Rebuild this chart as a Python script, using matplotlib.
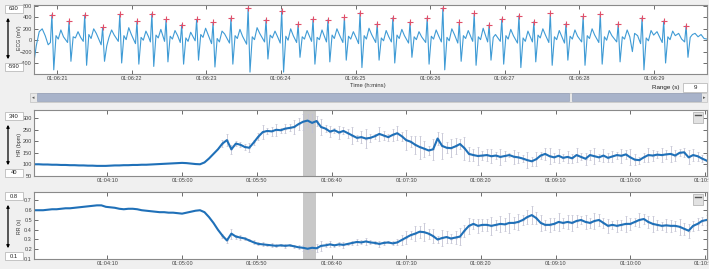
"""
ECG viewer screenshot: raw ECG window with R-peak marks, HR and RR trends.
"""

import matplotlib
matplotlib.use("Agg")
import matplotlib.pyplot as plt
from matplotlib.patches import Rectangle, FancyArrowPatch
from matplotlib.ticker import FuncFormatter

plt.rcParams["font.family"] = ["Liberation Sans", "DejaVu Sans"]

# --- ECG window (seconds after 01:06:00) ---
ecg_t = [
    20.69, 20.72, 20.76, 20.80, 20.84, 20.88, 20.91,
    20.93, 20.955, 20.985, 21.015, 21.05, 21.085, 21.14,
    21.16, 21.185, 21.215, 21.245, 21.28, 21.315, 21.35,
    21.37, 21.395, 21.425, 21.455, 21.49, 21.525, 21.59,
    21.61, 21.635, 21.665, 21.695, 21.73, 21.765, 21.82,
    21.84, 21.865, 21.895, 21.925, 21.96, 21.995, 22.05,
    22.07, 22.095, 22.125, 22.155, 22.19, 22.225, 22.25,
    22.27, 22.295, 22.325, 22.355, 22.39, 22.44,
    22.46, 22.485, 22.515, 22.545, 22.58, 22.615, 22.65,
    22.67, 22.695, 22.725, 22.755, 22.79, 22.85,
    22.87, 22.895, 22.925, 22.955, 22.99, 23.025, 23.07,
    23.09, 23.115, 23.145, 23.175, 23.21, 23.245, 23.31,
    23.33, 23.355, 23.385, 23.415, 23.45, 23.485, 23.54,
    23.56, 23.585, 23.615, 23.645, 23.68, 23.715, 23.78,
    23.80, 23.825, 23.855, 23.885, 23.92, 23.955, 23.99,
    24.01, 24.035, 24.065, 24.095, 24.13, 24.165, 24.21,
    24.23, 24.255, 24.285, 24.315, 24.35, 24.41,
    24.43, 24.455, 24.485, 24.515, 24.55, 24.61,
    24.63, 24.655, 24.685, 24.715, 24.75, 24.785, 24.83,
    24.85, 24.875, 24.905, 24.935, 24.97, 25.005, 25.04,
    25.06, 25.085, 25.115, 25.145, 25.18, 25.215, 25.27,
    25.29, 25.315, 25.345, 25.375, 25.41, 25.445, 25.48,
    25.50, 25.525, 25.555, 25.585, 25.62, 25.655, 25.71,
    25.73, 25.755, 25.785, 25.815, 25.85, 25.885, 25.94,
    25.96, 25.985, 26.015, 26.045, 26.08, 26.115, 26.15,
    26.17, 26.195, 26.225, 26.255, 26.29, 26.325, 26.37,
    26.39, 26.415, 26.445, 26.475, 26.51, 26.57,
    26.59, 26.615, 26.645, 26.675, 26.71, 26.77,
    26.79, 26.815, 26.845, 26.875, 26.94,
    26.96, 26.985, 27.015, 27.045, 27.08, 27.115, 27.17,
    27.19, 27.215, 27.245, 27.275, 27.31, 27.37,
    27.39, 27.415, 27.445, 27.475, 27.51, 27.545, 27.59,
    27.61, 27.635, 27.665, 27.695, 27.73, 27.765, 27.80,
    27.82, 27.845, 27.875, 27.905, 27.94, 27.975, 28.03,
    28.05, 28.075, 28.105, 28.135, 28.17, 28.205, 28.26,
    28.28, 28.305, 28.335, 28.365, 28.40, 28.435, 28.50,
    28.52, 28.545, 28.575, 28.605, 28.64, 28.675, 28.71, 28.74, 28.78, 28.82,
    28.84, 28.865, 28.895, 28.925, 28.96, 28.995, 29.04, 29.08, 29.11,
    29.13, 29.155, 29.185, 29.215, 29.25, 29.285, 29.33, 29.37, 29.41,
    29.43, 29.455, 29.485, 29.515, 29.55, 29.59, 29.63, 29.67, 29.71,
]
ecg_v = [
    -380, -100, 150, 200, 80, -80, -40,
    448, -520, 80, 20, 180, 60, -40,
    336, -370, 60, 40, 150, 50, -20,
    442, -440, 100, 30, 200, 120, -80,
    225, -370, -100, 50, 180, 90, -20,
    455, -400, 80, 10, 220, 100, -60,
    336, -420, 50, 0, 160, 60, -30,
    466, -460, 90, 40, 190, -20,
    366, -380, 70, 20, 170, 80, -40,
    271, -420, 40, -20, 140, -10,
    366, -350, 100, 50, 210, 90, -60,
    313, -470, 30, -30, 160, 110, -50,
    389, -420, 80, 30, 190, 70, -70,
    566, -560, 60, 10, 220, 120, -30,
    360, -330, 90, 40, 160, 60, -50,
    519, -560, 70, 0, 200, 80, -40,
    283, -300, 60, 20, 170, -20,
    372, -420, 50, 10, 180, -30,
    360, -380, 90, 30, 200, 90, -40,
    402, -350, 70, 20, 150, 50, -60,
    483, -480, 80, 20, 210, 100, -40,
    289, -350, 40, -10, 170, 60, -30,
    395, -400, 90, 30, 190, 80, -50,
    319, -300, 60, 10, 150, 60, -40,
    395, -420, 70, 20, 180, 70, -30,
    566, -520, 50, -10, 200, 100, -50,
    313, -370, 80, 30, 170, -20,
    472, -440, 60, 10, 210, -30,
    271, -350, 50, 100, -20,
    372, -420, 80, 20, 190, 80, -50,
    431, -480, 40, -20, 160, -30,
    324, -380, 90, 40, 200, 90, -40,
    472, -440, 60, 10, 170, 60, -50,
    289, -350, 70, 20, 180, 70, -30,
    419, -440, 80, 30, 200, 90, -40,
    466, -420, 60, 0, 170, 80, -30,
    289, -380, 60, 20, 180, 60, -200, 120, 80, -60,
    395, -520, 40, -10, 170, 90, 150, 40, -40,
    336, -400, 60, 10, 160, 80, 120, 20, -30,
    253, -300, 50, 100, 120, 60, 100, 30, 20,
]
peak_t = [20.93, 21.16, 21.37, 21.61, 21.84, 22.07, 22.27, 22.46, 22.67, 22.87,
          23.09, 23.33, 23.56, 23.80, 24.01, 24.23, 24.43, 24.63, 24.85, 25.06,
          25.29, 25.50, 25.73, 25.96, 26.17, 26.39, 26.59, 26.79, 26.96, 27.19,
          27.39, 27.61, 27.82, 28.05, 28.28, 28.52, 28.84, 29.13, 29.43]
peak_v = [448, 336, 442, 225, 455, 336, 466, 366, 271, 366,
          313, 389, 566, 360, 519, 283, 372, 360, 402, 483,
          289, 395, 319, 395, 566, 313, 472, 271, 372, 431,
          324, 472, 289, 419, 466, 289, 395, 336, 253]

# --- trends: one value every 3 s from 201 s after 01:00:00 ---
trend_t = list(range(201, 652, 3))
hr = [
    100, 100, 99, 99, 98, 98, 97, 97, 96, 96,
    95, 95, 94, 94, 93, 93, 93, 94, 95, 95,
    96, 96, 97, 97, 98, 98, 99, 100, 101, 102,
    103, 104, 105, 106, 105, 103, 101, 100, 108, 125,
    145, 165, 190, 205, 165, 190, 185, 175, 172, 195,
    220, 240, 245, 243, 250, 248, 255, 258, 262, 275,
    285, 290, 280, 288, 262, 255, 242, 248, 238, 245,
    235, 225, 215, 218, 212, 215, 222, 232, 225, 218,
    228, 235, 222, 205, 198, 185, 175, 168, 160, 165,
    212, 180, 172, 170, 178, 188, 170, 145, 140, 136,
    138, 140, 135, 138, 132, 136, 140, 133, 130, 125,
    118, 113, 122, 138, 145, 135, 130, 137, 128, 132,
    126, 140, 132, 124, 140, 135, 130, 138, 128, 134,
    140, 137, 143, 130, 120, 118, 130, 140, 138, 142,
    140, 143, 145, 138, 150, 152, 130, 140, 135, 125,
    116,
]
rr = [
    0.60, 0.60, 0.60, 0.605, 0.61, 0.61, 0.615, 0.62, 0.62, 0.625,
    0.63, 0.635, 0.64, 0.645, 0.65, 0.65, 0.635, 0.63, 0.625, 0.615,
    0.61, 0.615, 0.615, 0.61, 0.60, 0.595, 0.59, 0.585, 0.58, 0.58,
    0.575, 0.575, 0.57, 0.565, 0.575, 0.585, 0.595, 0.60, 0.58, 0.53,
    0.47, 0.40, 0.34, 0.29, 0.36, 0.33, 0.32, 0.31, 0.29, 0.27,
    0.255, 0.25, 0.245, 0.24, 0.235, 0.24, 0.235, 0.24, 0.23, 0.22,
    0.215, 0.205, 0.215, 0.21, 0.235, 0.24, 0.25, 0.24, 0.25, 0.245,
    0.255, 0.265, 0.275, 0.27, 0.28, 0.27, 0.265, 0.255, 0.265, 0.27,
    0.26, 0.27, 0.295, 0.32, 0.345, 0.36, 0.38, 0.375, 0.36, 0.335,
    0.30, 0.315, 0.325, 0.31, 0.32, 0.33, 0.39, 0.44, 0.46, 0.44,
    0.45, 0.45, 0.44, 0.45, 0.46, 0.455, 0.47, 0.47, 0.48, 0.50,
    0.53, 0.55, 0.52, 0.47, 0.45, 0.45, 0.46, 0.48, 0.47, 0.48,
    0.47, 0.49, 0.50, 0.48, 0.47, 0.49, 0.50, 0.47, 0.44, 0.45,
    0.44, 0.45, 0.46, 0.46, 0.48, 0.50, 0.51, 0.48, 0.46, 0.45,
    0.44, 0.445, 0.44, 0.44, 0.43, 0.41, 0.39, 0.44, 0.46, 0.49,
    0.50,
]
# beat-to-beat spread shown as grey bars, from sample 42 onward
err_start = 42
hr_err = [
    15, 25, 20, 10, 12, 15, 20, 10, 15, 30, 12, 18, 25, 10, 20, 15, 30, 25, 35,
    30, 40, 20, 35, 15, 25, 10, 30, 15, 20, 35, 12, 25, 40, 18, 10, 30, 20, 15, 25,
    30, 20, 45, 25, 40, 50, 35, 20, 45, 30, 55, 25, 40, 35, 20, 50, 30, 25, 40, 20,
    25, 30, 15, 35, 20, 10, 30, 25, 15, 35, 20, 30, 15, 25, 35, 20, 30, 15, 25, 20,
    30, 15, 25, 20, 35, 15, 30, 20, 25, 15, 30, 20, 35, 25, 15, 20, 30, 25, 15, 30,
    20, 35, 25, 15, 20, 30, 25, 20, 15, 25,
]
rr_err = [
    0.02, 0.03, 0.05, 0.02, 0.03, 0.02, 0.01, 0.02, 0.015, 0.02, 0.01, 0.02, 0.015,
    0.01, 0.02, 0.01, 0.015, 0.02, 0.03,
    0.03, 0.02, 0.04, 0.05, 0.02, 0.03, 0.015, 0.02, 0.03, 0.01, 0.02, 0.03, 0.02,
    0.04, 0.02, 0.015, 0.03, 0.02, 0.01, 0.02,
    0.03, 0.05, 0.07, 0.04, 0.08, 0.06, 0.09, 0.05, 0.07, 0.04, 0.08, 0.06, 0.05,
    0.07, 0.09, 0.06, 0.08, 0.05, 0.07, 0.06,
    0.06, 0.09, 0.05, 0.08, 0.07, 0.10, 0.06, 0.08, 0.05, 0.07, 0.09, 0.06, 0.08,
    0.05, 0.07, 0.06, 0.09, 0.05, 0.07, 0.08,
    0.06, 0.04, 0.07, 0.05, 0.08, 0.06, 0.05, 0.07, 0.04, 0.06, 0.05, 0.08, 0.06,
    0.04, 0.07, 0.05, 0.06, 0.08, 0.05, 0.04, 0.07, 0.06, 0.05, 0.08, 0.06, 0.07,
    0.05, 0.06, 0.04, 0.05,
]
window = (380.7, 389.7)  # ECG window shown above, in trend seconds

BG = "#f0f0f0"
SPINE = "#8a8a8a"
W, H = 709, 269


def fx(px):
    return px / W


def fy(py):
    return 1 - py / H


def style_axes(ax):
    for s in ax.spines.values():
        s.set_color(SPINE)
        s.set_linewidth(0.8)
    ax.tick_params(direction="in", length=3, width=0.6, color="#555555",
                   labelsize=4, labelcolor="#444444", pad=1.5,
                   top=True, right=True)


fig = plt.figure(figsize=(7.09, 2.69), dpi=100, facecolor=BG)

# ---- ECG panel ----
ax_ecg = fig.add_axes([fx(34), fy(74), fx(673), 69 / H])
ax_ecg.plot(ecg_t, ecg_v, color="#3f9bd5", lw=0.8)
ax_ecg.plot(peak_t, peak_v, "+", color="#e0506a", ms=4, mew=0.8)
ax_ecg.set_xlim(20.69, 29.71)
ax_ecg.set_ylim(-593, 618)
ax_ecg.set_xticks(range(21, 30))
ax_ecg.xaxis.set_major_formatter(FuncFormatter(lambda v, p: f"01:06:{int(round(v)):02d}"))
ax_ecg.set_yticks([-400, -200, 0, 200, 400, 600])
style_axes(ax_ecg)
fig.text(fx(368), fy(86), "Time (h:mins)", fontsize=4.2, ha="center", va="center", color="#333333")


def trend_fmt(v, p):
    s = int(round(v))
    return f"01:{s // 60:02d}:{s % 60:02d}"


def trend_panel(top, bottom, values, err, ylim, yticks, ylabels):
    ax = fig.add_axes([fx(34), fy(bottom), fx(673), (bottom - top) / H])
    ax.axvspan(*window, color="#c8c8c8", zorder=0, lw=0)
    ex = trend_t[err_start:]
    ey = values[err_start:]
    ax.errorbar(ex, ey, yerr=err, fmt=".", ms=1.2, color="#c3c3d3",
                ecolor="#c3c3d3", elinewidth=0.6, capsize=0.8, capthick=0.5, zorder=1)
    ax.plot(trend_t, values, color="#1f70b8", lw=1.5, zorder=2)
    ax.set_xlim(200.9, 651.3)
    ax.set_ylim(*ylim)
    ax.set_xticks(range(250, 651, 50))
    ax.xaxis.set_major_formatter(FuncFormatter(trend_fmt))
    ax.set_yticks(yticks)
    ax.set_yticklabels(ylabels)
    style_axes(ax)
    # small collapse button in the top-right corner
    fig.add_artist(Rectangle((fx(693), fy(top + 13)), fx(10), 11 / H, transform=fig.transFigure,
                             facecolor="#e2e2e2", edgecolor="#aaaaaa", lw=0.5))
    fig.add_artist(plt.Line2D([fx(695), fx(701)], [fy(top + 5)] * 2, transform=fig.transFigure,
                              color="#555555", lw=1.0))
    return ax


ax_hr = trend_panel(110, 176, hr, hr_err, (49, 336),
                    [50, 100, 150, 200, 250, 300],
                    ["50", "100", "150", "200", "250", "300"])
ax_rr = trend_panel(191.7, 259, rr, rr_err, (0.1, 0.79),
                    [0.1, 0.2, 0.3, 0.4, 0.5, 0.6, 0.7],
                    ["0.1", "0.2", "0.3", "0.4", "0.5", "0.6", "0.7"])

# ---- left-hand range widgets ----
widgets = [
    ("630", "-590", "ECG (mV)", 5, 63),
    ("340", "40", "HR (bpm)", 112, 169),
    ("0.8", "0.1", "RR (s)", 192, 252),
]
for top_txt, bot_txt, label, y_top, y_bot in widgets:
    for txt, y0 in ((top_txt, y_top), (bot_txt, y_bot)):
        fig.add_artist(Rectangle((fx(5), fy(y0 + 8)), fx(18), 8 / H, transform=fig.transFigure,
                                 facecolor="white", edgecolor="#b0b0b0", lw=0.5))
        fig.text(fx(14), fy(y0 + 4), txt, fontsize=4.2, ha="center", va="center", color="#222222")
    fig.add_artist(FancyArrowPatch((fx(8), fy(y_top + 10)), (fx(8), fy(y_bot - 1)),
                                   transform=fig.transFigure, arrowstyle="<|-|>",
                                   mutation_scale=4, lw=0.9, color="black"))
    fig.text(fx(20), fy((y_top + y_bot + 8) / 2), label, rotation=90, fontsize=3.8,
             ha="center", va="center", color="#333333")

# ---- scroll bar and range box ----
fig.add_artist(Rectangle((fx(30), fy(102)), fx(677), 9 / H, transform=fig.transFigure,
                         facecolor="#e8e8e8", edgecolor="#c0c0c0", lw=0.5))
fig.add_artist(Rectangle((fx(37), fy(101.5)), fx(532), 8 / H, transform=fig.transFigure,
                         facecolor="#a8b3ca", edgecolor="#8d99b3", lw=0.4))
fig.add_artist(Rectangle((fx(572), fy(101.5)), fx(129), 8 / H, transform=fig.transFigure,
                         facecolor="#a8b3ca", edgecolor="#8d99b3", lw=0.4))
fig.text(fx(33.5), fy(97.5), "◂", fontsize=3.5, ha="center", va="center",
         color="#555555", family="DejaVu Sans")
fig.text(fx(704), fy(97.5), "▸", fontsize=3.5, ha="center", va="center",
         color="#555555", family="DejaVu Sans")

fig.text(fx(666), fy(88), "Range (s)", fontsize=4.5, ha="center", va="center", color="#222222")
fig.add_artist(Rectangle((fx(683), fy(92)), fx(24), 9 / H, transform=fig.transFigure,
                         facecolor="white", edgecolor="#b0b0b0", lw=0.5))
fig.text(fx(695), fy(87.5), "9", fontsize=4.5, ha="center", va="center", color="#222222")

fig.savefig("out.png", dpi=100, facecolor=BG)
